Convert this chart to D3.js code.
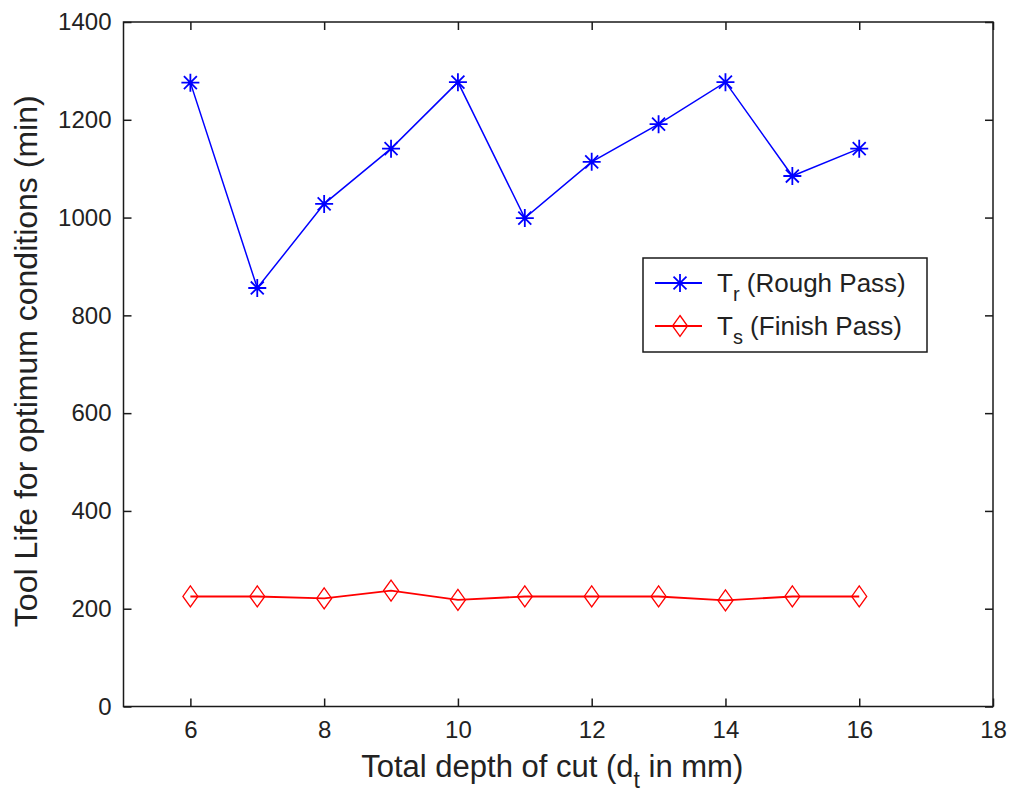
<!DOCTYPE html>
<html>
<head>
<meta charset="utf-8">
<script src="https://cdn.jsdelivr.net/npm/d3@7"></script>
<style>
  html, body { margin: 0; padding: 0; background: #fff; }
  svg { display: block; font-family: "Liberation Sans", Arial, sans-serif; }
</style>
</head>
<body>
<svg id="chart" width="1010" height="798"></svg>
<script>
// ---- data ----
const depths = [6, 7, 8, 9, 10, 11, 12, 13, 14, 15, 16];
const roughLife = [1276, 856, 1028, 1141, 1277, 999, 1114, 1191, 1277, 1085, 1141];
const finishLife = [225, 225, 221, 237, 218, 225, 225, 225, 217, 225, 225];
const xTicks = [6, 8, 10, 12, 14, 16, 18];
const yTicks = [0, 200, 400, 600, 800, 1000, 1200, 1400];
const xDomain = [5, 18];
const yDomain = [0, 1400];

// ---- layout ----
const svg = d3.select("#chart");
const L = 123.5, R = 993, T = 22, B = 706.5;
const x = d3.scaleLinear().domain(xDomain).range([L, R]);
const y = d3.scaleLinear().domain(yDomain).range([B, T]);
const axisColor = "#1a1a1a";
const tickLen = 8;

// frame
svg.append("rect").attr("x", L).attr("y", T).attr("width", R - L).attr("height", B - T)
  .attr("fill", "none").attr("stroke", axisColor).attr("stroke-width", 1.5);

// axes via d3
const xAxisB = d3.axisBottom(x).tickValues(xTicks).tickSize(-tickLen).tickPadding(14).tickFormat(d3.format("d"));
const xAxisT = d3.axisTop(x).tickValues(xTicks).tickSize(-tickLen).tickFormat("");
const yAxisL = d3.axisLeft(y).tickValues(yTicks).tickSize(-tickLen).tickPadding(12).tickFormat(d3.format("d"));
const yAxisR = d3.axisRight(y).tickValues(yTicks).tickSize(-tickLen).tickFormat("");

function styleAxis(g) {
  g.select(".domain").remove();
  g.selectAll(".tick line").attr("stroke", axisColor).attr("stroke-width", 1.5);
  g.selectAll(".tick text").attr("fill", "#222").style("font-size", "24px")
    .style("font-family", "'Liberation Sans', Arial, sans-serif");
}
svg.append("g").attr("transform", `translate(0,${B})`).call(xAxisB).call(styleAxis);
svg.append("g").attr("transform", `translate(0,${T})`).call(xAxisT).call(styleAxis);
svg.append("g").attr("transform", `translate(${L},0)`).call(yAxisL).call(styleAxis);
svg.append("g").attr("transform", `translate(${R},0)`).call(yAxisR).call(styleAxis);

// axis labels
const xl = svg.append("text").attr("x", (L + R) / 2 - 6).attr("y", 777)
  .attr("text-anchor", "middle").style("font-size", "31px").attr("fill", "#222");
xl.append("tspan").text("Total depth of cut (d");
xl.append("tspan").attr("dy", 11).style("font-size", "23px").text("t");
xl.append("tspan").attr("dy", -11).text(" in mm)");

svg.append("text").attr("transform", `translate(37,${(T + B) / 2 - 3}) rotate(-90)`)
  .attr("text-anchor", "middle").style("font-size", "32px").attr("fill", "#222")
  .text("Tool Life for optimum conditions (min)");

// ---- series ----
const line = d3.line().x((d, i) => x(depths[i])).y(d => y(d));
const blue = "#0000ff", red = "#ff0000";

function starPath(cx, cy, r) {
  const d = r * 0.72;
  return `M${cx - r},${cy}L${cx + r},${cy}M${cx},${cy - r}L${cx},${cy + r}` +
    `M${cx - d},${cy - d}L${cx + d},${cy + d}M${cx - d},${cy + d}L${cx + d},${cy - d}`;
}
function diamondPath(cx, cy, w, h) {
  return `M${cx},${cy - h}L${cx + w},${cy}L${cx},${cy + h}L${cx - w},${cy}Z`;
}

svg.append("path").datum(roughLife).attr("d", line).attr("fill", "none")
  .attr("stroke", blue).attr("stroke-width", 1.5);
svg.append("g").selectAll("path").data(roughLife).join("path")
  .attr("d", (d, i) => starPath(x(depths[i]), y(d), 9))
  .attr("stroke", blue).attr("stroke-width", 1.8).attr("fill", "none");

svg.append("path").datum(finishLife).attr("d", line).attr("fill", "none")
  .attr("stroke", red).attr("stroke-width", 1.8);
svg.append("g").selectAll("path").data(finishLife).join("path")
  .attr("d", (d, i) => diamondPath(x(depths[i]), y(d), 7.5, 10.5))
  .attr("stroke", red).attr("stroke-width", 1.3).attr("fill", "none");

// ---- legend ----
const lg = svg.append("g");
lg.append("rect").attr("x", 643).attr("y", 258).attr("width", 284).attr("height", 94)
  .attr("fill", "#fff").attr("stroke", axisColor).attr("stroke-width", 1.5);
const legendItems = [
  { main: "T", sub: "r", rest: " (Rough Pass)", color: blue, marker: "star", cy: 283 },
  { main: "T", sub: "s", rest: " (Finish Pass)", color: red, marker: "diamond", cy: 326 }
];
legendItems.forEach(it => {
  lg.append("line").attr("x1", 655).attr("x2", 702).attr("y1", it.cy).attr("y2", it.cy)
    .attr("stroke", it.color).attr("stroke-width", 1.8);
  lg.append("path").attr("d", it.marker === "star" ? starPath(680, it.cy, 9) : diamondPath(680, it.cy, 7.5, 10.5))
    .attr("stroke", it.color).attr("stroke-width", it.marker === "star" ? 1.8 : 1.3).attr("fill", "none");
  const t = lg.append("text").attr("x", 717).attr("y", it.cy + 9).style("font-size", "26px").attr("fill", "#222");
  t.append("tspan").text(it.main);
  t.append("tspan").attr("dy", 9).style("font-size", "20px").text(it.sub);
  t.append("tspan").attr("dy", -9).text(it.rest);
});
</script>
</body>
</html>
